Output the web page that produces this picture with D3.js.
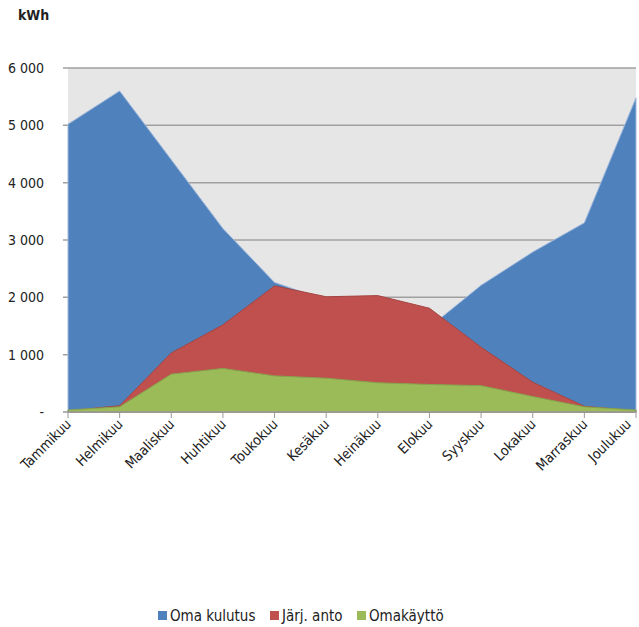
<!DOCTYPE html>
<html><head><meta charset="utf-8">
<script src="https://cdn.jsdelivr.net/npm/d3@7"></script>
<style>
body{margin:0;background:#fff;}
text{font-family:"Liberation Sans Narrow","Arial Narrow","DejaVu Sans Condensed",sans-serif;}
</style></head>
<body><svg id="c" width="639" height="627"></svg>
<script>
const months = ["Tammikuu","Helmikuu","Maaliskuu","Huhtikuu","Toukokuu","Kesäkuu","Heinäkuu","Elokuu","Syyskuu","Lokakuu","Marraskuu","Joulukuu"];
const omaKulutus = [5020,5600,4400,3200,2260,1950,1700,1480,2210,2790,3300,5480];
const jarjAnto   = [20,110,1030,1520,2200,2010,2030,1810,1130,520,100,20];
const omakaytto  = [35,90,660,760,630,590,510,480,460,270,90,35];
const yTicks = [0,1000,2000,3000,4000,5000,6000];
const seriesNames = ["Oma kulutus","Järj. anto","Omakäyttö"];
const colors = ["#4f81bd","#c0504d","#9bbb59"];

const svg = d3.select("#c");
const L=68, R=636, T=68, B=412;
const x = d3.scalePoint().domain(months).range([L,R]);
const y = d3.scaleLinear().domain([0,6000]).range([B,T]);

svg.append("rect").attr("x",L).attr("y",T).attr("width",R-L).attr("height",B-T).attr("fill","#e6e6e6");

// gridlines
svg.append("g").selectAll("line").data(yTicks.filter(d=>d>0)).join("line")
  .attr("x1",L-5).attr("x2",R).attr("y1",d=>y(d)).attr("y2",d=>y(d))
  .attr("stroke","#a0a0a0").attr("stroke-width",1.5);

const series=[omaKulutus,jarjAnto,omakaytto];
const area = d3.area().x((d,i)=>x(months[i])).y0(y(0)).y1(d=>y(d));
series.forEach((s,k)=>{
  svg.append("path").datum(s).attr("d",area).attr("fill",colors[k])
    .attr("stroke", k===0?"#9db8dc":d3.color(colors[k]).darker(0.4)).attr("stroke-width",1);
});

// x axis
svg.append("line").attr("x1",L-5).attr("x2",R).attr("y1",B).attr("y2",B).attr("stroke","#9a9a9a").attr("stroke-width",1.5);
svg.append("g").selectAll("line").data(months).join("line")
  .attr("x1",d=>x(d)).attr("x2",d=>x(d)).attr("y1",B).attr("y2",B+6).attr("stroke","#9a9a9a");
svg.append("g").selectAll("text").data(months).join("text")
  .attr("transform",d=>`translate(${Math.min(x(d)+4,632)},${B+13}) rotate(-45)`)
  .attr("text-anchor","end").attr("font-size",14).attr("fill","#222").text(d=>d);

// y labels
svg.append("g").selectAll("text").data(yTicks).join("text")
  .attr("x",44).attr("y",d=>y(d)).attr("dy","0.35em").attr("text-anchor","end")
  .attr("font-size",14).attr("fill","#222").text(d=>d===0?"-":d3.format(",")(d).replace(","," "));
svg.append("text").attr("x",18).attr("y",20).attr("font-size",14).attr("font-weight","bold").attr("fill","#222").text("kWh");

// legend
const leg=[{x:158},{x:270},{x:357}];
const lg = svg.append("g");
seriesNames.forEach((n,i)=>{
  lg.append("rect").attr("x",leg[i].x).attr("y",611).attr("width",9).attr("height",9).attr("fill",colors[i]);
  lg.append("text").attr("x",leg[i].x+12).attr("y",616).attr("dy","0.35em").attr("font-size",15).attr("fill","#222").text(n);
});
</script></body></html>
